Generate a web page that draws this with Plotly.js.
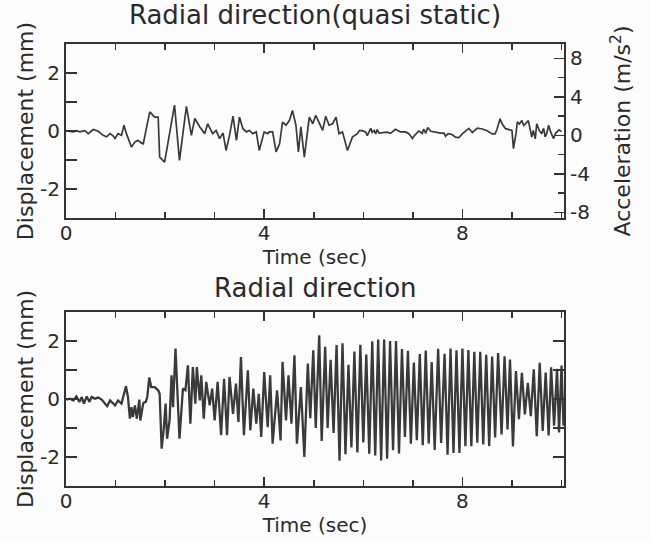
<!DOCTYPE html>
<html>
<head>
<meta charset="utf-8">
<script src="https://cdn.plot.ly/plotly-3.0.1.min.js"></script>
<style>html,body{margin:0;padding:0;background:#fcfcfc;}#chart{width:650px;height:541px;}</style>
</head>
<body>
<div id="chart"></div>
<script>
// Top panel: radial direction (quasi static), time in sec and displacement in mm
var topTime = [0.01,0.15,0.21,0.28,0.38,0.45,0.55,0.65,0.75,0.82,0.89,0.95,0.99,1.05,1.12,1.17,1.22,1.32,1.39,1.45,1.52,1.56,1.69,1.79,1.86,1.89,1.99,2.19,2.29,2.43,2.53,2.60,2.70,2.80,2.86,2.96,3.03,3.10,3.17,3.23,3.30,3.37,3.44,3.50,3.57,3.64,3.70,3.77,3.84,3.90,4.00,4.07,4.10,4.17,4.24,4.31,4.37,4.44,4.51,4.57,4.64,4.69,4.74,4.81,4.91,4.98,5.04,5.18,5.24,5.31,5.38,5.45,5.51,5.58,5.68,5.78,5.88,
  5.92,5.98,6.05,6.08,6.15,6.18,6.22,6.25,6.28,6.32,6.39,6.48,6.55,6.65,6.75,6.85,6.92,6.99,7.04,7.12,7.19,7.22,7.26,7.30,7.36,7.46,7.56,7.63,7.66,7.71,7.79,7.86,7.93,7.99,8.06,8.13,8.20,8.30,8.40,8.50,8.60,8.66,8.70,8.76,8.80,8.87,9.00,9.03,9.08,9.11,9.15,9.20,9.24,9.29,9.33,9.40,9.43,9.47,9.50,9.55,9.60,9.64,9.67,9.70,9.74,9.78,9.84,9.88,9.95,10.0];
var topValue = [0.0,-0.03,0.01,-0.03,0.01,-0.09,0.05,-0.01,-0.15,-0.2,-0.09,-0.17,-0.26,-0.09,-0.15,0.2,-0.09,-0.55,-0.38,-0.32,-0.41,-0.44,0.66,0.48,0.48,-0.9,-1.07,0.89,-1.01,0.85,-0.15,0.43,0.14,-0.09,0.25,-0.09,0.02,-0.26,-0.07,-0.67,-0.15,0.51,-0.32,0.48,0.08,-0.03,0.02,-0.09,-0.03,-0.67,-0.03,-0.09,-0.03,-0.03,-0.72,-0.44,0.31,0.2,0.37,0.71,0.2,-0.72,0.14,-0.9,0.48,0.25,0.54,0.02,0.51,0.2,0.25,0.48,-0.09,-0.03,-0.67,-0.21,-0.09,
  0.01,0.01,-0.04,-0.16,0.09,-0.05,0.02,-0.10,0.05,-0.07,-0.05,-0.04,-0.08,0.06,-0.03,-0.03,-0.09,-0.26,-0.14,0.00,-0.08,0.07,-0.08,0.12,-0.01,-0.05,-0.07,-0.07,-0.18,-0.09,-0.12,-0.21,-0.23,-0.11,0.00,0.09,-0.05,0.10,0.07,0.01,-0.10,-0.10,0.07,0.42,0.25,0.08,0.02,-0.61,-0.10,0.32,0.24,0.36,0.19,0.30,0.36,-0.21,0.02,-0.27,0.25,0.02,-0.09,0.09,-0.20,-0.09,0.20,-0.03,-0.26,-0.08,0.04,-0.02];

// Bottom panel: radial direction, time in sec and displacement in mm
var botTime = [0.01,0.08,0.15,0.21,0.27,0.32,0.36,0.42,0.47,0.52,0.58,0.65,0.72,0.78,0.83,0.89,0.94,0.99,1.05,1.12,1.21,1.25,1.29,1.32,1.35,1.39,1.43,1.48,1.50,1.56,1.61,1.64,1.68,1.72,1.79,1.86,1.89,1.93,1.97,2.01,2.04,2.09,2.13,2.16,2.21,2.26,2.29,2.36,2.41,2.46,2.51,2.56,2.61,2.64,2.70,2.73,2.78,2.83,2.90,2.95,3.00,3.06,3.13,3.19,3.25,3.30,3.37,3.43,3.48,3.53,3.59,3.67,3.72,3.78,3.84,3.89,3.94,4.00,4.07,4.12,4.17,4.26,4.33,4.37,4.44,4.49,4.55,4.61,4.66,4.74,4.81,4.88,
  4.93,4.99,5.04,5.11,5.16,5.23,5.28,5.34,5.40,5.46,5.52,5.58,5.64,5.70,5.76,5.82,5.88,5.94,6.00,6.06,6.12,6.18,6.24,6.30,6.36,6.42,6.48,6.54,6.60,6.66,6.72,6.78,6.84,6.90,6.96,7.02,7.08,7.14,7.20,7.26,7.32,7.38,7.44,7.51,7.57,7.64,7.70,7.76,7.82,7.88,7.94,8.00,8.06,8.12,8.18,8.24,8.30,8.36,8.42,8.48,8.54,8.60,8.66,8.72,8.79,8.85,8.91,8.96,9.02,9.08,9.14,9.20,9.26,9.32,9.38,9.44,9.50,9.56,9.62,9.68,9.74,9.79,9.85,9.91,9.95,10.0,10.04];
var botValue = [-0.02,0.01,-0.05,0.09,-0.10,0.07,-0.16,0.09,-0.10,0.07,0.01,0.05,-0.02,-0.14,-0.25,-0.05,-0.14,-0.22,-0.05,-0.16,0.44,0.07,-0.68,-0.28,-0.62,-0.22,-0.68,-0.02,-0.74,-0.14,-0.10,0.07,0.74,0.41,0.41,0.30,0.18,-1.71,-1.08,-0.16,-1.37,-0.74,0.82,-0.28,1.74,-0.45,-1.37,0.36,0.30,1.16,-0.85,1.10,-0.16,1.10,-0.05,0.82,-0.68,0.59,-0.22,0.36,-0.74,0.59,-1.25,0.70,-1.25,0.76,-0.51,0.53,-0.79,1.45,-1.25,0.99,-1.08,0.36,-0.85,0.18,-1.31,0.93,-0.97,0.82,-1.54,0.30,-1.43,1.28,-0.74,0.82,-0.85,1.51,-1.54,0.41,-2.0,1.22,
  -0.66,1.68,-1.0,2.20,-1.45,1.80,-1.0,1.35,-1.17,1.86,-2.13,1.92,-1.90,1.18,-1.67,1.64,-1.84,1.87,-1.50,1.53,-1.89,1.99,-1.95,2.05,-2.12,2.05,-2.06,2.0,-1.77,2.0,-1.88,1.72,-1.31,1.66,-1.54,1.26,-1.42,1.55,-1.59,1.67,-1.53,1.27,-1.76,1.73,-1.52,1.56,-1.92,1.74,-1.86,1.68,-1.86,1.74,-1.63,1.69,-1.63,1.63,-1.51,1.63,-1.57,1.52,-1.62,1.46,-1.33,1.58,-1.22,1.47,-1.05,1.36,-1.64,0.96,-0.70,0.90,-0.53,0.56,-0.59,1.02,-1.28,1.25,-1.10,0.91,-1.26,1.09,-0.92,1.04,-1.15,1.15,-0.92];

// Tick labels (labelled ticks only; unlabelled ticks are minor ticks)
var timeTicks = [0, 4, 8];
var timeTickText = ['0', '4', '8'];
var dispTicks = [-2, 0, 2];
var dispTickText = ['-2', '0', '2'];
var accTicks = [-8, -4, 0, 4, 8];
var accTickText = ['-8', '-4', '0', '4', '8'];

var topTitle = 'Radial direction(quasi static)';
var bottomTitle = 'Radial direction';

var FONT = 'DejaVu Sans, Arial, sans-serif';
var INK = '#2a2a2a';
var LINE = '#333333';

function xAxis(anchor) {
  return {
    anchor: anchor, domain: [0, 1], range: [0, 10.05],
    showline: true, linecolor: LINE, linewidth: 2, mirror: 'ticks',
    ticks: 'inside', ticklen: 9, tickwidth: 1.5, tickcolor: LINE,
    tickmode: 'array', tickvals: timeTicks, ticktext: timeTickText, ticklabelstandoff: -4,
    minor: {tickmode: 'linear', tick0: 0, dtick: 1, ticks: 'inside', ticklen: 6, tickwidth: 1.5, tickcolor: LINE, showgrid: false},
    showgrid: false, zeroline: false,
    tickfont: {family: FONT, size: 20, color: INK},
    title: {text: 'Time (sec)', font: {family: FONT, size: 20, color: INK}, standoff: 0}
  };
}
function yAxis(anchor, domain, mirror) {
  return {
    anchor: anchor, domain: domain, range: [-3, 3],
    showline: true, linecolor: LINE, linewidth: 2, mirror: mirror,
    ticks: 'inside', ticklen: 11, tickwidth: 1.5, tickcolor: LINE,
    tickmode: 'array', tickvals: dispTicks, ticktext: dispTickText,
    minor: {tickmode: 'linear', tick0: 0, dtick: 1, ticks: 'inside', ticklen: 11, tickwidth: 1.5, tickcolor: LINE, showgrid: false},
    showgrid: false, zeroline: false,
    tickfont: {family: FONT, size: 20, color: INK},
    title: {text: 'Displacement (mm)', font: {family: FONT, size: 22, color: INK}, standoff: 0}
  };
}

var traces = [
  {x: topTime, y: topValue, xaxis: 'x', yaxis: 'y', type: 'scatter', mode: 'lines',
   line: {color: '#3a3a3a', width: 1.7}, name: 'Quasi static', showlegend: false},
  {x: [], y: [], xaxis: 'x', yaxis: 'y3', type: 'scatter', mode: 'lines',
   name: 'Acceleration axis', showlegend: false, hoverinfo: 'skip'},
  {x: botTime, y: botValue, xaxis: 'x2', yaxis: 'y2', type: 'scatter', mode: 'lines',
   line: {color: '#3a3a3a', width: 2.3}, name: 'Radial', showlegend: false}
];

var layout = {
  width: 650, height: 541,
  paper_bgcolor: '#fcfcfc', plot_bgcolor: 'rgba(0,0,0,0)',
  margin: {l: 66, r: 86, t: 44, b: 55},
  showlegend: false,
  title: {text: topTitle, font: {family: FONT, size: 26, color: INK},
          x: 0.5, xref: 'paper', xanchor: 'center', y: 1 - 15 / 541, yref: 'container', yanchor: 'middle'},
  xaxis: xAxis('y'),
  yaxis: yAxis('x', [0.6063, 1], true),
  yaxis3: {
    overlaying: 'y', side: 'right', anchor: 'x', range: [-8.6, 9.5],
    showline: true, linecolor: LINE, linewidth: 2,
    ticks: 'inside', ticklen: 10, tickwidth: 1.5, tickcolor: LINE,
    tickmode: 'array', tickvals: accTicks, ticktext: accTickText,
    minor: {tickmode: 'linear', tick0: 0, dtick: 2, ticks: 'inside', ticklen: 6, tickwidth: 1.5, tickcolor: LINE, showgrid: false},
    showgrid: false, zeroline: false,
    tickfont: {family: FONT, size: 20, color: INK},
    title: {text: 'Acceleration (m/s<sup>2</sup>)', font: {family: FONT, size: 22, color: INK}}
  },
  xaxis2: xAxis('y2'),
  yaxis2: yAxis('x2', [0, 0.3937], 'ticks'),
  annotations: [
    {text: bottomTitle, xref: 'paper', yref: 'paper', x: 0.5, y: (486 - 288) / 442,
     xanchor: 'center', yanchor: 'middle', showarrow: false,
     font: {family: FONT, size: 26, color: INK}}
  ]
};

Plotly.newPlot('chart', traces, layout, {staticPlot: true, displayModeBar: false});
</script>
</body>
</html>
